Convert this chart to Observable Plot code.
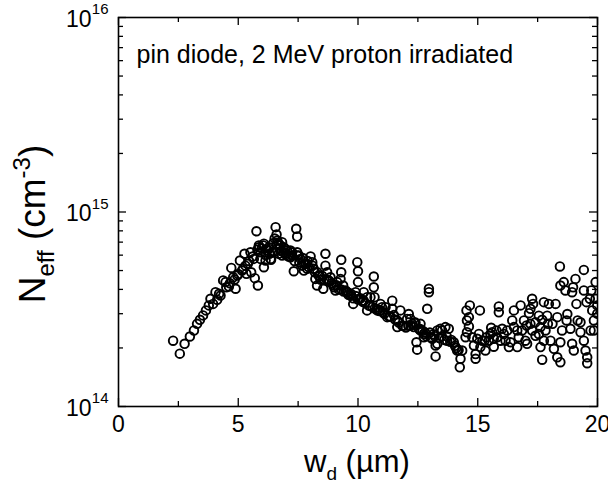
<!DOCTYPE html>
<html>
<head>
<meta charset="utf-8">
<script src="https://cdn.jsdelivr.net/npm/d3@7"></script>
<script src="https://cdn.jsdelivr.net/npm/@observablehq/plot@0.6"></script>
<style>
  body { margin: 0; background: #fff; }
  #chart svg { display: block; font-family: "Liberation Sans", Arial, sans-serif; }
</style>
</head>
<body>
<div id="chart"></div>
<script>
// depletion depth w_d (µm)
const wd = [
  2.28, 2.56, 2.76, 2.98, 3.15, 3.28, 3.40, 3.53, 3.65, 3.77, 3.84, 3.95, 4.05, 4.12, 4.26, 4.37, 4.47, 4.61, 4.71, 4.79,
  4.89, 4.96, 5.07, 5.16, 5.26, 5.34, 5.40, 5.51, 5.54, 5.65, 5.69, 5.76, 5.82, 5.86, 5.86, 5.93, 5.93, 6.04, 6.07, 6.07,
  6.14, 6.21, 6.28, 6.28, 6.35, 6.37, 6.42, 6.48, 6.56, 6.60, 6.63, 6.69, 6.69, 6.76, 6.83, 6.83, 6.90, 6.97, 6.97, 7.04,
  7.18, 7.18, 7.25, 7.25, 7.32, 7.42, 7.46, 7.46, 7.46, 7.53, 7.60, 7.67, 7.70, 7.74, 7.81, 7.88, 7.90, 8.02, 8.09, 8.10,
  8.15, 8.22, 8.29, 8.30, 8.36, 8.43, 8.50, 8.55, 8.64, 8.64, 8.70, 8.71, 8.78, 8.85, 8.90, 8.99, 9.06, 9.10, 9.13, 9.27,
  9.30, 9.30, 9.30, 9.38, 9.48, 9.50, 9.57, 9.69, 9.70, 9.80, 9.90, 9.90, 9.97, 10.00, 10.00, 10.08, 10.10, 10.24, 10.24, 10.30,
  10.38, 10.38, 10.50, 10.52, 10.66, 10.66, 10.69, 10.70, 10.80, 10.90, 10.94, 10.94, 11.00, 11.10, 11.15, 11.22, 11.30, 11.43, 11.43, 11.50,
  11.64, 11.64, 11.70, 11.77, 11.90, 12.00, 12.05, 12.12, 12.19, 12.20, 12.26, 12.33, 12.40, 12.44, 12.47, 12.60, 12.61, 12.61, 12.75, 12.75,
  12.80, 12.89, 12.96, 12.96, 13.00, 13.03, 13.10, 13.20, 13.24, 13.24, 13.31, 13.31, 13.44, 13.50, 13.51, 13.65, 13.70, 13.72, 13.79, 13.90,
  14.00, 14.10, 14.14, 14.20, 14.25, 14.28, 14.35, 14.49, 14.53, 14.55, 14.55, 14.63, 14.63, 14.67, 14.77, 14.84, 14.91, 14.91, 14.98, 15.05,
  15.09, 15.11, 15.19, 15.28, 15.32, 15.36, 15.46, 15.53, 15.56, 15.60, 15.67, 15.67, 15.78, 15.81, 15.88, 15.88, 15.95, 16.02, 16.09, 16.16,
  16.23, 16.30, 16.37, 16.44, 16.51, 16.51, 16.65, 16.65, 16.71, 16.79, 16.85, 16.93, 16.99, 17.04, 17.06, 17.14, 17.20, 17.20, 17.27, 17.27,
  17.31, 17.41, 17.41, 17.55, 17.55, 17.62, 17.62, 17.69, 17.69, 17.76, 17.76, 17.83, 17.90, 17.93, 17.97, 18.04, 18.12, 18.18, 18.25, 18.32,
  18.32, 18.43, 18.45, 18.45, 18.45, 18.52, 18.59, 18.66, 18.71, 18.74, 18.87, 18.94, 18.94, 18.98, 19.01, 19.08, 19.12, 19.17, 19.29, 19.29,
  19.43, 19.43, 19.43, 19.50, 19.54, 19.57, 19.57, 19.68, 19.71, 19.74, 19.78, 19.85, 19.85, 19.92, 19.92, 19.99, 19.99,
  4.20, 4.50, 4.65, 4.85, 5.00, 5.20, 5.30, 5.45, 5.60, 5.80, 5.98, 6.15, 6.30, 6.45, 6.52, 6.62, 6.72, 6.80, 6.90, 7.00,
  7.10, 7.35, 7.55, 7.75, 7.95, 8.20, 8.40, 8.60, 8.80, 9.00, 9.20, 9.40, 9.60, 9.80, 10.00, 10.20, 10.45, 10.60, 10.85, 11.05,
  11.35, 11.55, 11.85, 12.10, 12.35, 12.55, 12.70, 12.85, 13.15, 13.40, 13.60, 13.85, 14.05
];
// effective doping N_eff (cm^-3)
const neff = [
  2.18e14, 1.87e14, 2.10e14, 2.29e14, 2.46e14, 2.66e14, 2.79e14, 2.94e14, 3.12e14, 3.31e14, 3.58e14, 3.37e14, 3.87e14, 3.54e14, 3.72e14, 4.45e14, 4.36e14, 4.14e14, 5.16e14, 4.62e14,
  4.03e14, 4.71e14, 5.63e14, 5.00e14, 6.10e14, 4.81e14, 5.42e14, 6.21e14, 4.90e14, 5.74e14, 4.57e14, 7.96e14, 4.19e14, 6.73e14, 6.59e14, 5.74e14, 6.21e14, 6.73e14, 6.87e14, 5.20e14,
  5.63e14, 6.34e14, 6.59e14, 6.46e14, 5.74e14, 5.68e14, 6.21e14, 6.21e14, 8.36e14, 7.66e14, 7.13e14, 6.10e14, 6.87e14, 6.73e14, 7.00e14, 5.97e14, 6.59e14, 6.46e14, 6.10e14, 6.34e14,
  5.85e14, 6.34e14, 6.21e14, 5.97e14, 4.96e14, 8.20e14, 7.48e14, 5.97e14, 6.21e14, 5.97e14, 5.74e14, 5.30e14, 5.80e14, 5.00e14, 5.42e14, 5.11e14, 5.60e14, 5.91e14, 5.52e14, 5.30e14,
  5.11e14, 4.53e14, 4.19e14, 4.90e14, 4.71e14, 4.49e14, 4.70e14, 4.03e14, 6.10e14, 5.30e14, 4.50e14, 4.90e14, 4.45e14, 4.62e14, 4.30e14, 4.19e14, 3.95e14, 4.20e14, 4.36e14, 4.53e14,
  5.68e14, 4.90e14, 4.00e14, 4.19e14, 3.95e14, 3.90e14, 3.87e14, 3.72e14, 3.80e14, 3.37e14, 3.87e14, 3.70e14, 5.52e14, 4.96e14, 4.36e14, 3.58e14, 3.60e14, 3.50e14, 3.87e14, 3.40e14,
  3.12e14, 3.65e14, 3.30e14, 3.65e14, 4.66e14, 4.10e14, 3.65e14, 3.20e14, 3.12e14, 3.10e14, 3.37e14, 3.12e14, 3.24e14, 3.00e14, 3.24e14, 2.88e14, 2.90e14, 3.50e14, 3.18e14, 2.95e14,
  2.56e14, 2.77e14, 2.70e14, 3.12e14, 2.60e14, 2.55e14, 2.82e14, 2.99e14, 2.82e14, 2.60e14, 2.66e14, 2.56e14, 2.70e14, 2.14e14, 1.96e14, 2.50e14, 2.66e14, 2.46e14, 2.36e14, 2.27e14,
  2.40e14, 3.18e14, 4.03e14, 3.87e14, 2.40e14, 2.27e14, 2.23e14, 2.30e14, 2.06e14, 1.81e14, 2.46e14, 2.10e14, 2.51e14, 2.30e14, 2.46e14, 2.56e14, 2.30e14, 2.18e14, 2.51e14, 2.20e14,
  2.14e14, 2.00e14, 1.94e14, 1.95e14, 1.59e14, 1.76e14, 1.94e14, 2.27e14, 3.12e14, 2.77e14, 2.41e14, 2.88e14, 2.58e14, 3.31e14, 2.27e14, 2.06e14, 1.76e14, 1.86e14, 2.23e14, 2.36e14,
  3.12e14, 2.02e14, 2.18e14, 2.18e14, 1.94e14, 2.27e14, 2.18e14, 2.36e14, 2.54e14, 2.41e14, 2.03e14, 2.23e14, 2.46e14, 2.27e14, 3.27e14, 3.05e14, 2.18e14, 2.51e14, 2.36e14, 2.18e14,
  2.46e14, 2.02e14, 2.14e14, 2.77e14, 3.12e14, 2.56e14, 2.02e14, 2.46e14, 2.27e14, 3.31e14, 2.46e14, 2.77e14, 2.18e14, 2.61e14, 2.10e14, 3.02e14, 3.18e14, 2.66e14, 3.58e14, 2.46e14,
  3.37e14, 2.71e14, 2.31e14, 2.36e14, 2.93e14, 2.02e14, 2.56e14, 1.74e14, 2.79e14, 3.44e14, 2.18e14, 2.46e14, 2.93e14, 2.66e14, 3.37e14, 2.18e14, 2.66e14, 1.98e14, 3.37e14, 1.79e14,
  2.88e14, 5.25e14, 4.19e14, 1.69e14, 2.14e14, 2.46e14, 4.36e14, 3.95e14, 2.77e14, 2.99e14, 2.51e14, 3.87e14, 2.10e14, 4.10e14, 1.94e14, 4.53e14, 3.37e14, 2.77e14, 2.41e14, 2.71e14,
  5.04e14, 3.95e14, 2.18e14, 1.94e14, 3.44e14, 1.79e14, 1.67e14, 3.58e14, 2.46e14, 3.95e14, 3.12e14, 2.46e14, 2.77e14, 4.36e14, 3.58e14, 3.31e14, 3.00e14,
  3.80e14, 4.10e14, 4.30e14, 4.50e14, 4.80e14, 5.10e14, 5.30e14, 5.60e14, 5.90e14, 6.40e14, 6.50e14, 6.00e14, 6.10e14, 6.90e14, 7.30e14, 6.80e14, 6.50e14, 6.30e14, 6.20e14, 6.00e14,
  5.90e14, 5.60e14, 5.50e14, 5.40e14, 5.20e14, 4.90e14, 4.70e14, 4.50e14, 4.40e14, 4.10e14, 4.00e14, 3.90e14, 3.75e14, 3.60e14, 3.55e14, 3.45e14, 3.30e14, 3.25e14, 3.15e14, 3.05e14,
  2.90e14, 2.80e14, 2.60e14, 2.60e14, 2.70e14, 2.50e14, 2.45e14, 2.30e14, 2.35e14, 2.25e14, 2.20e14, 2.15e14, 2.05e14
];

const xMajor = [0, 5, 10, 15, 20];
const xMinor = [2.5, 7.5, 12.5, 17.5];
const yMajor = [1e14, 1e15, 1e16];
const yExponents = ["14", "15", "16"];
const yMinor = [2e14, 3e14, 4e14, 5e14, 6e14, 7e14, 8e14, 9e14, 2e15, 3e15, 4e15, 5e15, 6e15, 7e15, 8e15, 9e15];
const annotation = "pin diode, 2 MeV proton irradiated";

const points = wd.map((x, i) => ({x, y: neff[i]}));

const FONT = "'Liberation Sans', Arial, sans-serif";
const frameH = 389;

const svg = Plot.plot({
  width: 608,
  height: 486,
  marginLeft: 118,
  marginRight: 11,
  marginTop: 17,
  marginBottom: 80,
  style: {fontFamily: FONT, background: "white", color: "black"},
  x: {domain: [0, 20], axis: null},
  y: {type: "log", domain: [1e14, 1e16], axis: null},
  marks: [
    // inward ticks, bottom & top
    Plot.ruleX(xMajor, {x: d => d, insetTop: frameH - 8, stroke: "black", strokeWidth: 1.3}),
    Plot.ruleX(xMinor, {x: d => d, insetTop: frameH - 5, stroke: "black", strokeWidth: 1.3}),
    Plot.ruleX(xMajor, {x: d => d, insetBottom: frameH - 8, stroke: "black", strokeWidth: 1.3}),
    Plot.ruleX(xMinor, {x: d => d, insetBottom: frameH - 5, stroke: "black", strokeWidth: 1.3}),
    // inward ticks, left & right
    Plot.ruleY(yMajor, {y: d => d, insetRight: 479 - 8, stroke: "black", strokeWidth: 1.3}),
    Plot.ruleY(yMinor, {y: d => d, insetRight: 479 - 5, stroke: "black", strokeWidth: 1.3}),
    Plot.ruleY(yMajor, {y: d => d, insetLeft: 479 - 8, stroke: "black", strokeWidth: 1.3}),
    Plot.ruleY(yMinor, {y: d => d, insetLeft: 479 - 5, stroke: "black", strokeWidth: 1.3}),
    // data
    Plot.dot(points, {x: "x", y: "y", r: 4.3, stroke: "black", strokeWidth: 1.9, fill: "none", clip: true}),
    Plot.frame({stroke: "black", strokeWidth: 1.6}),
    // x tick labels
    Plot.text(xMajor, {x: d => d, text: d => String(d), frameAnchor: "bottom", lineAnchor: "top", dy: 9, fontSize: 23, fill: "black"}),
    // y tick labels: "10" + superscript exponent
    Plot.text(yMajor, {y: d => d, text: () => "10", frameAnchor: "left", textAnchor: "end", dx: -27, dy: 2, fontSize: 23, fill: "black"}),
    Plot.text(yMajor, {y: d => d, text: (d, i) => yExponents[i], frameAnchor: "left", textAnchor: "end", dx: -10, dy: -8, fontSize: 15, fill: "black"}),
    // annotation
    Plot.text([annotation], {text: d => d, frameAnchor: "top-left", textAnchor: "start", lineAnchor: "bottom", dx: 18, dy: 45, fontSize: 25, fill: "black"})
  ]
});

const s = d3.select(svg);
// x-axis title: w_d (µm)
const xt = s.append("text")
  .attr("x", 357).attr("y", 472)
  .attr("text-anchor", "middle")
  .attr("font-family", FONT).attr("font-size", 31).attr("fill", "black");
xt.append("tspan").text("w");
xt.append("tspan").attr("font-size", 19).attr("dy", 8).text("d");
xt.append("tspan").attr("dy", -8).text(" (\u00B5m)");

// y-axis title: N_eff (cm^-3)
const yt = s.append("text")
  .attr("transform", "translate(45,224) rotate(-90)")
  .attr("text-anchor", "middle")
  .attr("font-family", FONT).attr("font-size", 37).attr("fill", "black");
yt.append("tspan").text("N");
yt.append("tspan").attr("font-size", 24).attr("dy", 9).text("eff");
yt.append("tspan").attr("dy", -9).text(" (cm");
yt.append("tspan").attr("font-size", 24).attr("dy", -15).text("-3");
yt.append("tspan").attr("dy", 15).text(")");

document.getElementById("chart").appendChild(svg);
</script>
</body>
</html>
